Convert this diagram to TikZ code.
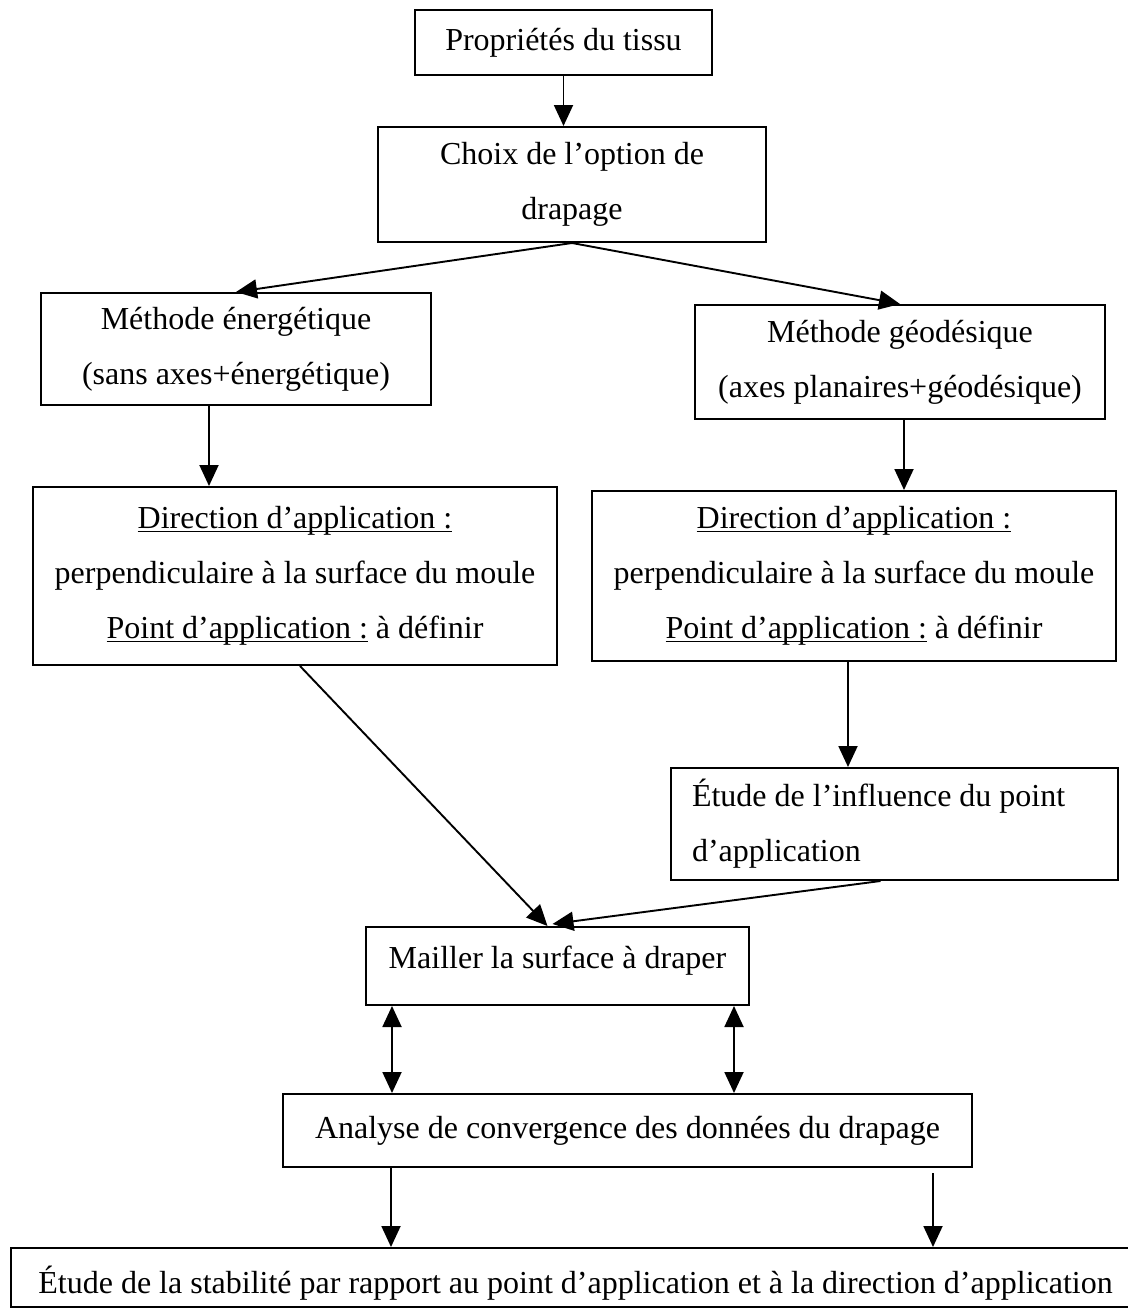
\documentclass[tikz,border=0pt]{standalone}
\usepackage{fontspec}
\setmainfont{Liberation Serif}
\usetikzlibrary{arrows.meta}
% underline set just below the baseline, across descenders
\newcommand\wordul[1]{\setbox0\hbox{#1}\rlap{\rule[-3.6pt]{\wd0}{1.4pt}}\box0\relax}
\begin{document}
\begin{tikzpicture}[x=1pt,y=-1pt,
  box/.style={draw, line width=2pt, inner sep=0pt, align=center,
    font=\fontsize{32}{55}\selectfont},
  arr/.style={line width=1.9pt, -{Triangle[length=21pt,width=19pt]}},
  twoway/.style={line width=1.9pt,
    {Triangle[length=21pt,width=19pt]}-{Triangle[length=21pt,width=19pt]}}]
\useasboundingbox (0,0) rectangle (1127,1309);
\fill[white] (0,0) rectangle (1127,1309);

% boxes
\node[box, minimum width=297pt, minimum height=65pt] (prop) at (563.5,42.5) {Propriétés du tissu};
\node[box, minimum width=388pt, minimum height=115pt] (choix) at (572,184.5) {Choix de l’option de\\drapage};
\node[box, minimum width=390pt, minimum height=112pt] (meth1) at (236,349) {Méthode énergétique\\(sans axes+énergétique)};
\node[box, minimum width=410pt, minimum height=114pt] (meth2) at (900,362) {Méthode géodésique\\(axes planaires+géodésique)};
\node[box, minimum width=524pt, minimum height=178pt] (dir1) at (295,576)
  {\wordul{Direction d’application :}\\perpendiculaire à la surface du moule\\\wordul{Point d’application :} à définir};
\node[box, minimum width=524pt, minimum height=170pt] (dir2) at (854,576)
  {\wordul{Direction d’application :}\\perpendiculaire à la surface du moule\\\wordul{Point d’application :} à définir};
\node[box, minimum width=447pt, minimum height=112pt, align=flush left, text width=405pt] (etude) at (894.5,824)
  {Étude de l’influence du point\\d’application};
\node[box, minimum width=383pt, minimum height=78pt, text height=22pt, text depth=18pt] (mail) at (557.5,966)
  {Mailler la surface à draper};
\node[box, minimum width=689pt, minimum height=73pt] (anal) at (627.5,1130.5)
  {Analyse de convergence des données du drapage};
\node[box, minimum width=1129pt, minimum height=59pt, text height=38pt, text depth=7pt] (stab) at (575.5,1277.5)
  {Étude de la stabilité par rapport au point d’application et à la direction d’application};

% connector end points
\coordinate (m1) at ([xshift=-27pt]meth1.south);
\coordinate (m2) at ([xshift=4pt]meth2.south);
\coordinate (d2) at ([xshift=-6pt]dir2.south);
\coordinate (ml) at ([xshift=27pt]mail.south west);
\coordinate (mr) at ([xshift=-16pt]mail.south east);
\coordinate (al) at ([xshift=109pt]anal.south west);
\coordinate (ar) at ([xshift=-40pt,yshift=-5pt]anal.south east);

% connectors
\draw[arr] (prop.south) -- (prop.south |- choix.north);
\draw[arr] (choix.south) -- (meth1.north);
\draw[arr] (choix.south) -- (meth2.north);
\draw[arr] (m1) -- (m1 |- dir1.north);
\draw[arr] (m2) -- (m2 |- dir2.north);
\draw[arr] (d2) -- (d2 |- etude.north);
\draw[arr] ([xshift=5pt]dir1.south) -- ([xshift=-10pt]mail.north);
\draw[arr] ([xshift=-14pt]etude.south) -- ([xshift=-5pt,yshift=2pt]mail.north);
\draw[twoway] (ml) -- (ml |- anal.north);
\draw[twoway] (mr) -- (mr |- anal.north);
\draw[arr] (al) -- (al |- stab.north);
\draw[arr] (ar) -- (ar |- stab.north);
\end{tikzpicture}
\end{document}
